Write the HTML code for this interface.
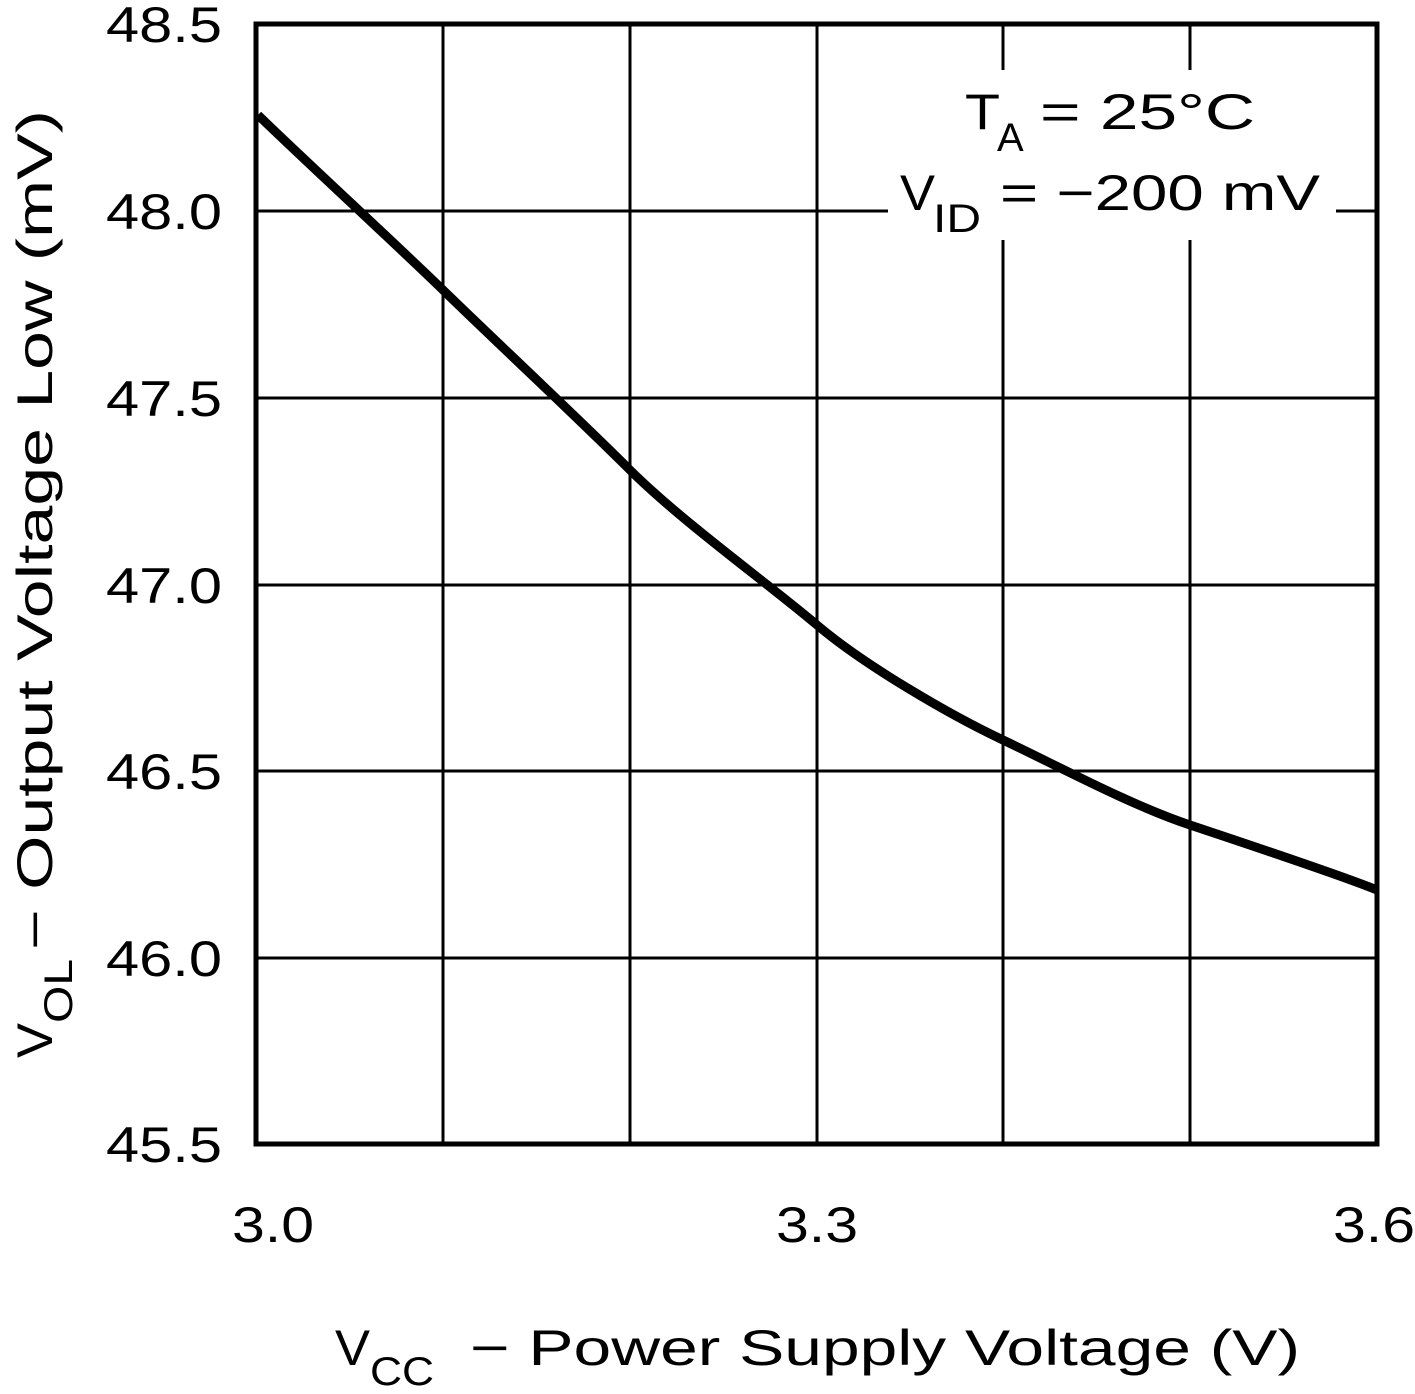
<!DOCTYPE html>
<html><head><style>body{margin:0;background:#fff}</style></head><body>
<svg width="1415" height="1389" xmlns="http://www.w3.org/2000/svg" font-family="Liberation Sans, sans-serif">
<rect width="1415" height="1389" fill="#fff"/>
<g stroke="#000" stroke-width="3">
<line x1="443" y1="24" x2="443" y2="1144"/>
<line x1="630" y1="24" x2="630" y2="1144"/>
<line x1="817" y1="24" x2="817" y2="1144"/>
<line x1="1003" y1="24" x2="1003" y2="1144"/>
<line x1="1190" y1="24" x2="1190" y2="1144"/>
<line x1="256" y1="211" x2="1377" y2="211"/>
<line x1="256" y1="398" x2="1377" y2="398"/>
<line x1="256" y1="585" x2="1377" y2="585"/>
<line x1="256" y1="771" x2="1377" y2="771"/>
<line x1="256" y1="958" x2="1377" y2="958"/>
</g>
<rect x="950" y="70" width="320" height="90" fill="#fff"/>
<rect x="888" y="160" width="448" height="80" fill="#fff"/>
<rect x="256" y="24" width="1121" height="1120" fill="none" stroke="#000" stroke-width="5"/>
<path d="M258,115 C300,156 400,248 443,290 S580,420 630,470 S770,585 817,625 S950,715 1003,740 S1130,805 1190,825 S1340,875 1377,890" fill="none" stroke="#000" stroke-width="9" stroke-linejoin="round"/>
<g font-size="50" text-anchor="end">
<text x="222" y="42" textLength="116" lengthAdjust="spacingAndGlyphs">48.5</text>
<text x="222" y="229" textLength="116" lengthAdjust="spacingAndGlyphs">48.0</text>
<text x="222" y="416" textLength="116" lengthAdjust="spacingAndGlyphs">47.5</text>
<text x="222" y="603" textLength="116" lengthAdjust="spacingAndGlyphs">47.0</text>
<text x="222" y="789" textLength="116" lengthAdjust="spacingAndGlyphs">46.5</text>
<text x="222" y="976" textLength="116" lengthAdjust="spacingAndGlyphs">46.0</text>
<text x="222" y="1162" textLength="116" lengthAdjust="spacingAndGlyphs">45.5</text>
</g>
<g font-size="50">
<text x="232" y="1242" textLength="82" lengthAdjust="spacingAndGlyphs">3.0</text>
<text x="776" y="1242" textLength="82" lengthAdjust="spacingAndGlyphs">3.3</text>
<text x="1333" y="1242" textLength="82" lengthAdjust="spacingAndGlyphs">3.6</text>
</g>
<g font-size="50">
<text x="965" y="129" textLength="35" lengthAdjust="spacingAndGlyphs">T</text>
<text x="997" y="151" font-size="40">A</text>
<text x="1040" y="129" textLength="215" lengthAdjust="spacingAndGlyphs">= 25°C</text>
<text x="900" y="210" textLength="35" lengthAdjust="spacingAndGlyphs">V</text>
<text x="933" y="232" font-size="40" textLength="48" lengthAdjust="spacingAndGlyphs">ID</text>
<text x="1000" y="210" textLength="320" lengthAdjust="spacingAndGlyphs">= −200 mV</text>
<text x="335" y="1365" textLength="35" lengthAdjust="spacingAndGlyphs">V</text>
<text x="370" y="1385" font-size="40" textLength="64" lengthAdjust="spacingAndGlyphs">CC</text>
<text x="470" y="1365" textLength="830" lengthAdjust="spacingAndGlyphs">− Power Supply Voltage (V)</text>
<g transform="translate(52,0) rotate(-90)">
<text x="-1058" y="0" textLength="35" lengthAdjust="spacingAndGlyphs">V</text>
<text x="-1023" y="20" font-size="40" textLength="64" lengthAdjust="spacingAndGlyphs">OL</text>
<text x="-950" y="0" textLength="840" lengthAdjust="spacingAndGlyphs">− Output Voltage Low (mV)</text>
</g>
</g>
</svg>
</body></html>
